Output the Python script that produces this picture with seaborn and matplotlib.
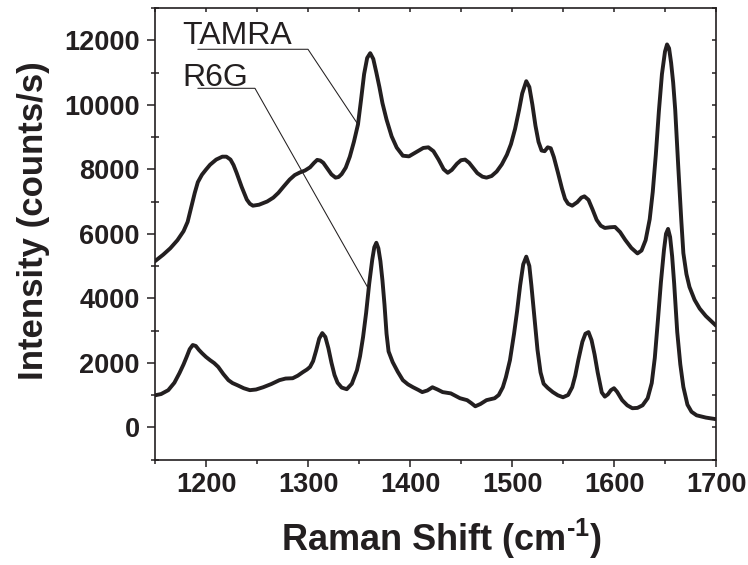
import matplotlib
matplotlib.use("Agg")
import matplotlib.pyplot as plt
import seaborn as sns
import pandas as pd
from matplotlib.ticker import MultipleLocator

# ---- data ----
tamra_shift = [1150, 1158, 1165, 1172, 1178, 1182, 1185, 1189, 1192, 1196, 1200, 1204, 1210,
               1216, 1220, 1224, 1227, 1230, 1235, 1240, 1243, 1246, 1252, 1260, 1266, 1271,
               1276, 1282, 1287, 1292, 1297, 1302, 1306, 1309, 1312, 1315, 1319, 1323, 1327,
               1330, 1333, 1337, 1341, 1345, 1349, 1352, 1355, 1358, 1361, 1364, 1367, 1370,
               1373, 1377, 1382, 1387, 1393, 1399, 1407, 1413, 1418, 1423, 1428, 1433, 1437,
               1441, 1446, 1450, 1454, 1458, 1462, 1466, 1471, 1475, 1480, 1485, 1490, 1495,
               1499, 1503, 1507, 1510, 1514, 1517, 1520, 1523, 1526, 1529, 1532, 1535, 1538,
               1541, 1545, 1549, 1552, 1555, 1559, 1564, 1568, 1571, 1575, 1579, 1583, 1587,
               1591, 1596, 1601, 1606, 1611, 1617, 1623, 1627, 1631, 1635, 1638, 1641, 1644,
               1647, 1650, 1652, 1654, 1656, 1658, 1660, 1663, 1666, 1668, 1671, 1674, 1679,
               1684, 1690, 1695, 1700]
tamra_int = [5150, 5350, 5550, 5800, 6080, 6370, 6750, 7270, 7600, 7830, 7990, 8140, 8300,
             8390, 8390, 8300, 8130, 7890, 7450, 7060, 6930, 6870, 6900, 7000, 7120, 7270,
             7460, 7680, 7820, 7900, 7960, 8060, 8200, 8290, 8270, 8200, 8020, 7840, 7740,
             7760, 7850, 8050, 8390, 8850, 9390, 10150, 10950, 11450, 11600, 11420, 11000, 10550,
             10050, 9540, 9020, 8670, 8420, 8400, 8550, 8660, 8680, 8560, 8300, 8000, 7890,
             7980, 8170, 8280, 8300, 8200, 8040, 7880, 7770, 7740, 7790, 7930, 8150, 8450,
             8780, 9250, 9850, 10350, 10730, 10550, 10000, 9350, 8850, 8580, 8560, 8680, 8650,
             8380, 7900, 7400, 7080, 6930, 6870, 6980, 7120, 7160, 7050, 6750, 6430, 6250,
             6180, 6200, 6210, 6050, 5810, 5560, 5390, 5480, 5800, 6450, 7300, 8450, 9800,
             10950, 11650, 11870, 11750, 11300, 10690, 9850, 8080, 6400, 5400, 4750, 4350, 3950,
             3680, 3450, 3300, 3150]

r6g_shift = [1150, 1156, 1163, 1169, 1174, 1178, 1181, 1184, 1187, 1190, 1193, 1196, 1200,
             1204, 1208, 1212, 1217, 1222, 1226, 1231, 1237, 1243, 1249, 1256, 1264, 1272,
             1278, 1285, 1290, 1295, 1299, 1302, 1305, 1308, 1311, 1314, 1317, 1320, 1323,
             1326, 1329, 1333, 1338, 1343, 1348, 1351, 1354, 1357, 1360, 1363, 1365, 1367,
             1369, 1371, 1373, 1375, 1377, 1379, 1383, 1388, 1393, 1398, 1403, 1408, 1412,
             1417, 1422, 1427, 1432, 1440, 1449, 1456, 1460, 1464, 1469, 1475, 1483, 1487,
             1491, 1494, 1498, 1502, 1505, 1508, 1511, 1514, 1517, 1519, 1522, 1525, 1528,
             1531, 1535, 1540, 1545, 1550, 1555, 1559, 1562, 1565, 1569, 1572, 1575, 1578,
             1581, 1584, 1588, 1591, 1594, 1597, 1600, 1603, 1608, 1613, 1618, 1623, 1628,
             1633, 1637, 1640, 1643, 1646, 1649, 1651, 1653, 1655, 1657, 1659, 1662, 1665,
             1668, 1672, 1676, 1681, 1690, 1700]
r6g_int = [990, 1030, 1150, 1380, 1680, 1950, 2180, 2420, 2550, 2520, 2400, 2300, 2180,
           2080, 1990, 1870, 1650, 1460, 1370, 1300, 1210, 1150, 1170, 1240, 1340, 1460,
           1510, 1520, 1600, 1710, 1790, 1870, 2050, 2380, 2750, 2920, 2800, 2450, 2000,
           1620, 1380, 1230, 1180, 1350, 1770, 2200, 2800, 3550, 4450, 5200, 5580, 5720,
           5550, 5150, 4550, 3800, 2900, 2350, 2020, 1720, 1460, 1330, 1240, 1160, 1090,
           1140, 1240, 1170, 1090, 1050, 900, 840, 750, 650, 720, 840, 900, 1000,
           1240, 1550, 2080, 2900, 3600, 4400, 5050, 5290, 5000, 4400, 3400, 2400, 1700,
           1350, 1220, 1090, 990, 930, 1000, 1240, 1600, 2080, 2650, 2900, 2950, 2700,
           2250, 1700, 1080, 950, 1020, 1150, 1210, 1100, 840, 680, 590, 600, 680,
           900, 1370, 2150, 3300, 4500, 5500, 6000, 6150, 5900, 5300, 4450, 2950, 1950,
           1250, 700, 480, 370, 300, 250]

series_names = ["TAMRA", "R6G"]
x_ticks = [1200, 1300, 1400, 1500, 1600, 1700]
y_ticks = [0, 2000, 4000, 6000, 8000, 10000, 12000]

df = pd.concat([
    pd.DataFrame({"shift": tamra_shift, "intensity": tamra_int, "dye": "TAMRA"}),
    pd.DataFrame({"shift": r6g_shift, "intensity": r6g_int, "dye": "R6G"}),
])

sns.set_theme(style="ticks")
plt.rcParams["font.family"] = ["Liberation Sans", "DejaVu Sans"]
plt.rcParams["mathtext.default"] = "regular"

ink = "#231f20"
fig = plt.figure(figsize=(7.48, 5.65), dpi=100)
ax = fig.add_axes([155 / 748, 1 - 459.5 / 565, 561 / 748, 451.5 / 565])

sns.lineplot(data=df, x="shift", y="intensity", units="dye", estimator=None,
             color=ink, linewidth=2.8, ax=ax, sort=True)
for ln in ax.lines:
    ln.set_solid_joinstyle("round")
    ln.set_solid_capstyle("round")

ax.set_xlim(1150, 1700)
ax.set_ylim(-1000, 13000)
ax.set_xticks(x_ticks)
ax.set_yticks(y_ticks)
ax.xaxis.set_minor_locator(MultipleLocator(50))
ax.yaxis.set_minor_locator(MultipleLocator(1000))

for s in ax.spines.values():
    s.set_visible(True)
    s.set_linewidth(1.2)
    s.set_color(ink)

ax.tick_params(axis="x", which="major", direction="out", length=5, width=1.1,
               pad=4, colors=ink, labelsize=19.5, top=True)
ax.tick_params(axis="x", which="minor", direction="out", length=3, width=1.1,
               colors=ink, top=True)
ax.tick_params(axis="y", which="major", direction="out", length=6, width=1.1,
               pad=5, colors=ink, labelsize=19.5, right=True)
ax.tick_params(axis="y", which="minor", direction="inout", length=6, width=1.1,
               colors=ink, right=True)
for lab in ax.get_xticklabels() + ax.get_yticklabels():
    lab.set_fontweight("bold")
    lab.set_color(ink)
# top / right ticks: small inward marks
for t in ax.xaxis.get_major_ticks() + ax.xaxis.get_minor_ticks():
    t.tick2line.set_markersize(3)
    t.tick2line.set_marker(3)
for t in ax.yaxis.get_major_ticks() + ax.yaxis.get_minor_ticks():
    t.tick2line.set_markersize(3)
    t.tick2line.set_marker(0)

ax.set_xlabel("Raman Shift (cm$^{\u20101}$)", fontsize=26, fontweight="bold", color=ink)
ax.xaxis.label.set_va("baseline")
ax.xaxis.set_label_coords(0.51, -0.2027)
ax.set_ylabel("Intensity (counts/s)", fontsize=25, fontweight="bold", color=ink)
ax.yaxis.set_label_coords(-0.187, 0.53)

# labels with leader lines
ax.text(1176.5, 11875, series_names[0], fontsize=23, color=ink, ha="left", va="baseline")
ax.plot([1192, 1300, 1349], [11720, 11720, 9390], color=ink, linewidth=0.75)
ax.text(1176.5, 10570, series_names[1], fontsize=23, color=ink, ha="left", va="baseline")
ax.plot([1192, 1248, 1358.8], [10510, 10510, 4320], color=ink, linewidth=0.75)

legend = ax.get_legend()
if legend is not None:
    legend.remove()

fig.savefig("out.png", dpi=100)
